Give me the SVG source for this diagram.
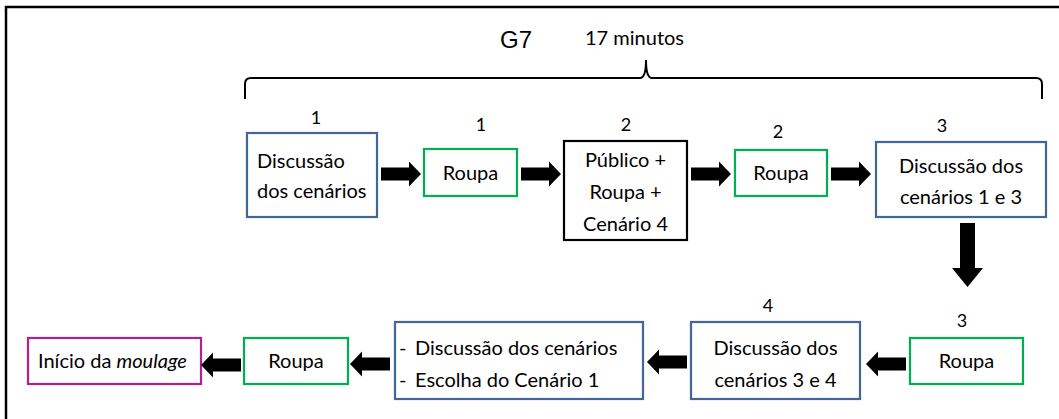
<svg xmlns="http://www.w3.org/2000/svg" width="1059" height="419" viewBox="0 0 1059 419">
<style>
.box{fill:#fff;stroke-width:2.2}
.blue{stroke:#41669A}
.green{stroke:#00B050}
.black{stroke:#000}
.mag{stroke:#B0208F}
.t{font-family:Lato,"Liberation Sans",sans-serif;font-size:20px;fill:#000}
.n{font-family:Lato,"Liberation Sans",sans-serif;font-size:18px;fill:#000;text-anchor:middle}
.c{text-anchor:middle}
.arr{fill:#000}
</style>
<defs>
<polygon id="ar" points="0,-6.5 28,-6.5 28,-12.5 40,0 28,12.5 28,6.5 0,6.5"/>
</defs>
<rect width="1059" height="419" fill="#fff"/>
<g id="frame" fill="none" stroke="#000" stroke-width="2.5">
<path d="M6,419 L6,7 L1059,7"/>
</g>
<g id="brace">
<path d="M245,99 L245,84 Q245,78 251,78 L640,78 Q646,78 646,60 Q646,78 652,78 L1036,78 Q1042,78 1042,84 L1042,99" fill="none" stroke="#000" stroke-width="2"/>
<text x="500" y="48" font-family="'Liberation Sans',Arial,sans-serif" font-size="24" fill="#000">G7</text>
<text x="585" y="45" class="t" font-size="21">17 minutos</text>
</g>
<g id="n1">
<text class="n" x="316" y="124">1</text>
<rect class="box blue" x="247" y="133" width="130" height="84"/>
<text class="t" x="257" y="168">Discussão</text>
<text class="t" x="257" y="198">dos cenários</text>
</g>
<g id="n2">
<text class="n" x="481" y="131">1</text>
<rect class="box green" x="424" y="149" width="93" height="47"/>
<text class="t c" x="470.5" y="180">Roupa</text>
</g>
<g id="n3">
<text class="n" x="626" y="131">2</text>
<rect class="box black" x="564" y="141" width="123" height="99"/>
<text class="t c" x="625.5" y="167">Público +</text>
<text class="t c" x="625.5" y="199">Roupa +</text>
<text class="t c" x="625.5" y="231">Cenário 4</text>
</g>
<g id="n4">
<text class="n" x="778" y="138">2</text>
<rect class="box green" x="735" y="150" width="92" height="46"/>
<text class="t c" x="781" y="180">Roupa</text>
</g>
<g id="n5">
<text class="n" x="942" y="132">3</text>
<rect class="box blue" x="876" y="142" width="170" height="75"/>
<text class="t c" x="961" y="173">Discussão dos</text>
<text class="t c" x="961" y="204">cenários 1 e 3</text>
</g>
<g id="n6">
<text class="n" x="962" y="327">3</text>
<rect class="box green" x="910" y="338" width="113" height="46"/>
<text class="t c" x="966.5" y="368">Roupa</text>
</g>
<g id="n7">
<text class="n" x="768" y="312">4</text>
<rect class="box blue" x="691" y="322" width="169" height="77"/>
<text class="t c" x="775.5" y="355">Discussão dos</text>
<text class="t c" x="775.5" y="387">cenários 3 e 4</text>
</g>
<g id="n8">
<rect class="box blue" x="395" y="322" width="248" height="77"/>
<text class="t" x="399" y="355">-</text>
<text class="t" x="415" y="355">Discussão dos cenários</text>
<text class="t" x="399" y="387">-</text>
<text class="t" x="415" y="387">Escolha do Cenário 1</text>
</g>
<g id="n9">
<rect class="box green" x="244" y="338" width="104" height="46"/>
<text class="t c" x="296" y="368">Roupa</text>
</g>
<g id="n10">
<rect class="box mag" x="28" y="338" width="173" height="46"/>
<text class="t" x="38" y="368">Início da <tspan font-style="italic">moulage</tspan></text>
</g>
<g id="connectors" class="arr">
<use href="#ar" transform="translate(381,174)"/>
<use href="#ar" transform="translate(521,174)"/>
<use href="#ar" transform="translate(691,174)"/>
<use href="#ar" transform="translate(831,174)"/>
<polygon points="960,223 975,223 975,268 983,268 967.5,287 952,268 960,268"/>
<use href="#ar" transform="translate(906,364) scale(-1,1)"/>
<use href="#ar" transform="translate(687,362) scale(-1,1)"/>
<use href="#ar" transform="translate(390,364) scale(-1,1)"/>
<use href="#ar" transform="translate(241,365) scale(-1,1)"/>
</g>
</svg>
